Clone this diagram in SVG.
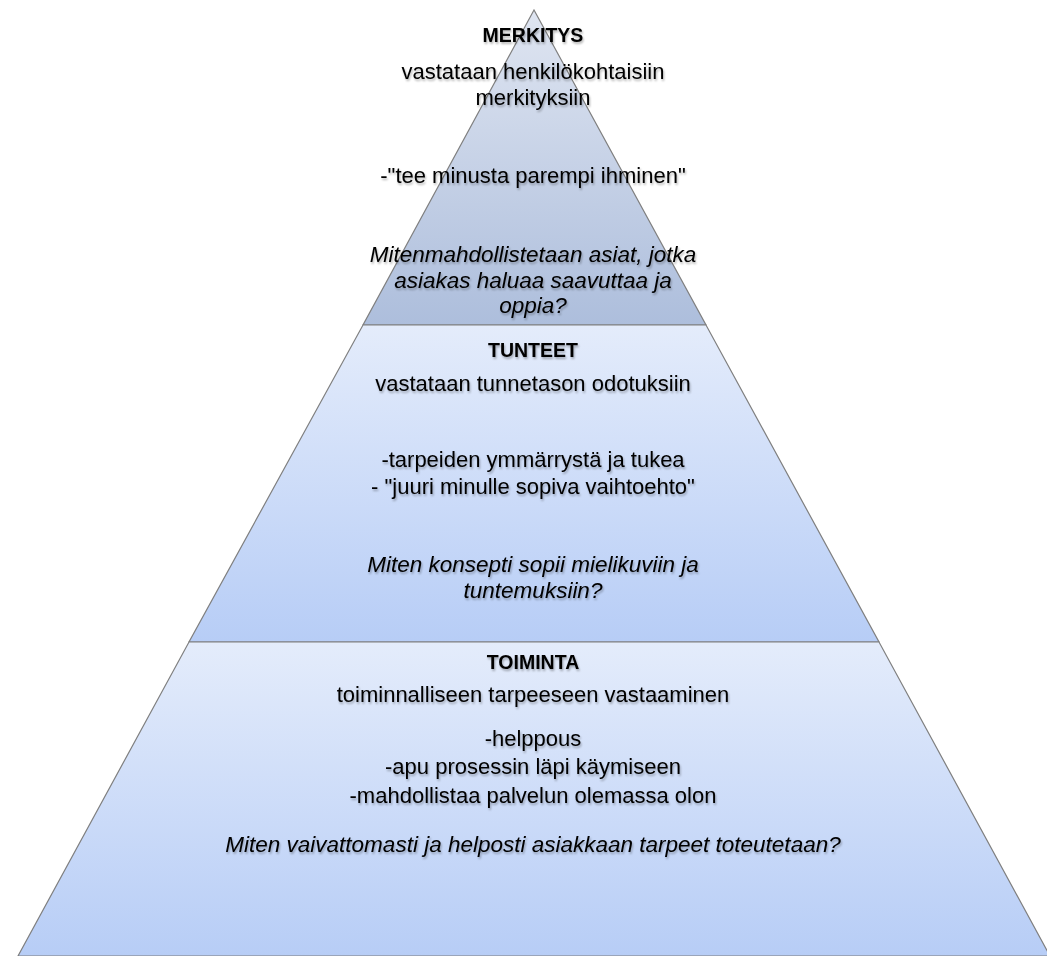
<svg xmlns="http://www.w3.org/2000/svg" width="1047" height="956" viewBox="0 0 1047 956">
<defs>
<linearGradient id="gTop" x1="0" y1="0" x2="0" y2="1">
<stop offset="0" stop-color="#dfe5f1"/>
<stop offset="1" stop-color="#adbedc"/>
</linearGradient>
<linearGradient id="gMid" x1="0" y1="0" x2="0" y2="1">
<stop offset="0" stop-color="#e4ecfb"/>
<stop offset="1" stop-color="#b7cdf6"/>
</linearGradient>
<filter id="sh" x="-5%" y="-30%" width="110%" height="160%">
<feGaussianBlur in="SourceAlpha" stdDeviation="1.2"/>
<feOffset dx="1" dy="1.5"/>
<feComponentTransfer><feFuncA type="linear" slope="0.3"/></feComponentTransfer>
<feMerge><feMergeNode/><feMergeNode in="SourceGraphic"/></feMerge>
</filter>
</defs>
<style>
.band{stroke:#7f7f7f;stroke-width:1.2}
text{font-family:"Liberation Sans",Arial,sans-serif;font-size:22px;fill:#000;text-anchor:middle}
.b{font-weight:bold;font-size:19.5px}
.i{font-style:italic;font-size:22.5px}
.t{filter:url(#sh)}
</style>
<rect width="1047" height="956" fill="#ffffff"/>
<g id="merkitys">
<polygon class="band" points="534,10 363,325 706,325" fill="url(#gTop)"/>
<g class="t">
<text class="b" x="533" y="42">MERKITYS</text>
<text x="533" y="79">vastataan henkilökohtaisiin</text>
<text x="533" y="105">merkityksiin</text>
<text x="533" y="183">-"tee minusta parempi ihminen"</text>
<text class="i" x="533" y="262">Mitenmahdollistetaan asiat, jotka</text>
<text class="i" x="533" y="288">asiakas haluaa saavuttaa ja</text>
<text class="i" x="533" y="313">oppia?</text>
</g>
</g>
<g id="tunteet">
<polygon class="band" points="363,325 706,325 879,642 189,642" fill="url(#gMid)"/>
<g class="t">
<text class="b" x="533" y="357">TUNTEET</text>
<text x="533" y="391">vastataan tunnetason odotuksiin</text>
<text x="533" y="467">-tarpeiden ymmärrystä ja tukea</text>
<text x="533" y="494">- "juuri minulle sopiva vaihtoehto"</text>
<text class="i" x="533" y="572">Miten konsepti sopii mielikuviin ja</text>
<text class="i" x="533" y="598">tuntemuksiin?</text>
</g>
</g>
<g id="toiminta">
<polygon class="band" points="189,642 879,642 1050,956 18,956" fill="url(#gMid)"/>
<g class="t">
<text class="b" x="533" y="669">TOIMINTA</text>
<text x="533" y="702">toiminnalliseen tarpeeseen vastaaminen</text>
<text x="533" y="746">-helppous</text>
<text x="533" y="774">-apu prosessin läpi käymiseen</text>
<text x="533" y="803">-mahdollistaa palvelun olemassa olon</text>
<text class="i" x="533" y="852">Miten vaivattomasti ja helposti asiakkaan tarpeet toteutetaan?</text>
</g>
</g>
<g id="connectors"/>
</svg>
